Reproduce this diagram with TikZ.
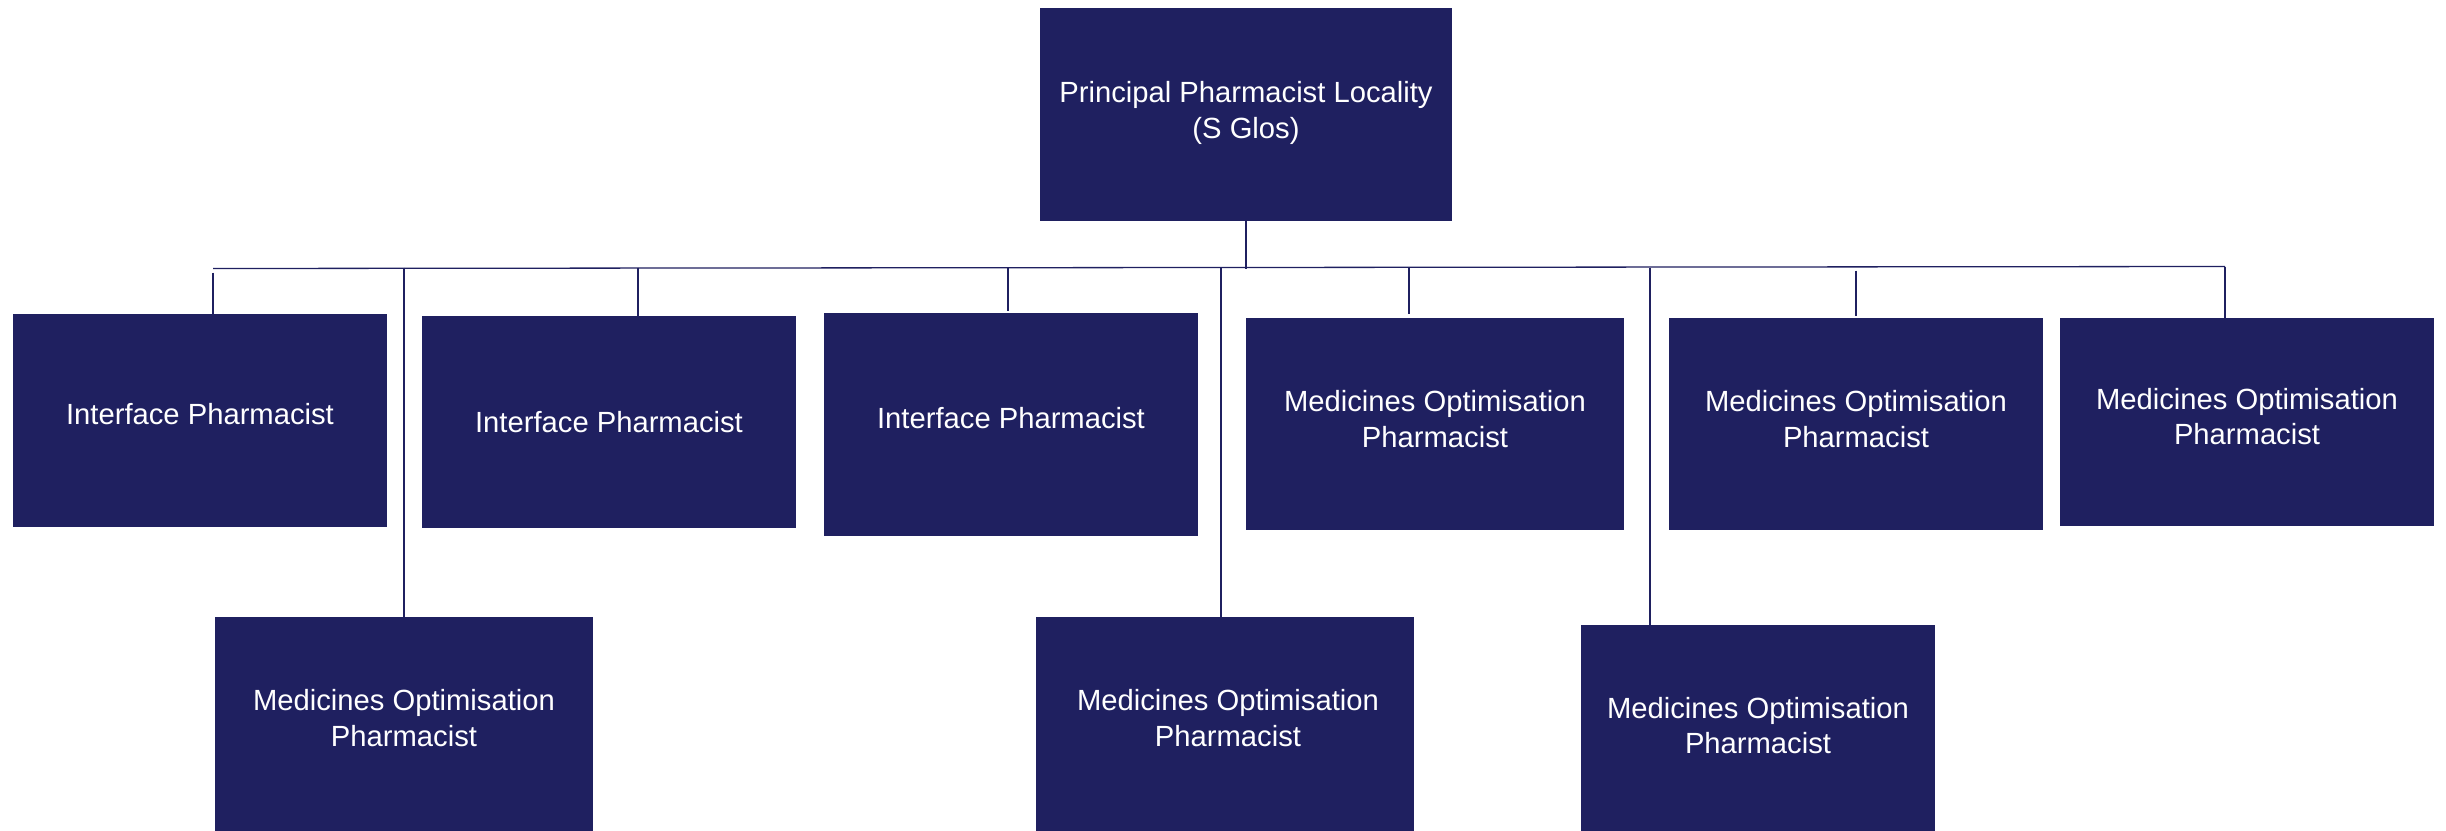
\documentclass[tikz,border=0pt]{standalone}
\usepackage{fontspec}
\setmainfont{Liberation Sans}
\definecolor{navy}{RGB}{31,32,96}
\begin{document}
\begin{tikzpicture}[x=1pt,y=-1pt,
  box/.style={fill=navy,draw=none,inner sep=0pt,outer sep=0pt},
  txt/.style={text=white,align=center,inner sep=0pt,font=\fontsize{29.2pt}{35.5pt}\selectfont},
  conn/.style={draw=navy,line width=1.3pt}]
\clip (0,0) rectangle (2446,830);
\fill[white] (0,0) rectangle (2446,830);
% boxes
\node[box,minimum width=412pt,minimum height=213pt] (top) at (1246,114.5) {};
\node[box,minimum width=374pt,minimum height=213pt] (b1) at (200,420.5) {};
\node[box,minimum width=374pt,minimum height=212pt] (b2) at (609,422) {};
\node[box,minimum width=374pt,minimum height=223pt] (b3) at (1011,424.5) {};
\node[box,minimum width=378pt,minimum height=212pt] (b4) at (1435,424) {};
\node[box,minimum width=374pt,minimum height=212pt] (b5) at (1856,424) {};
\node[box,minimum width=374pt,minimum height=208pt] (b6) at (2247,422) {};
\node[box,minimum width=378pt,minimum height=220pt] (b7) at (404,727) {};
\node[box,minimum width=378pt,minimum height=220pt] (b8) at (1225,727) {};
\node[box,minimum width=354pt,minimum height=212pt] (b9) at (1758,731) {};
% texts
\node[txt] (ttop) at (1246,113) {Principal Pharmacist Locality\\(S Glos)};
\node[txt] (t1) at (200,414) {Interface Pharmacist};
\node[txt] (t2) at (609,422) {Interface Pharmacist};
\node[txt] (t3) at (1011,418) {Interface Pharmacist};
\node[txt] (t4) at (1435,419) {Medicines Optimisation\\Pharmacist};
\node[txt] (t5) at (1856,419) {Medicines Optimisation\\Pharmacist};
\node[txt] (t6) at (2247,416.5) {Medicines Optimisation\\Pharmacist};
\node[txt] (t7) at (404,718) {Medicines Optimisation\\Pharmacist};
\node[txt] (t8) at (1228,718) {Medicines Optimisation\\Pharmacist};
\node[txt] (t9) at (1758,725.5) {Medicines Optimisation\\Pharmacist};
% bus
\coordinate (busL) at (213,268.5);
\coordinate (busR) at (2225,266.5);
\coordinate (c1) at (213,267.5);
\coordinate (c2) at (638,267.5);
\coordinate (c3) at (1008,267.5);
\coordinate (c4) at (1409,267.5);
\coordinate (c5) at (1856,267.5);
\coordinate (c6) at (2225,266.5);
\coordinate (c7) at (404,267.5);
\coordinate (c8) at (1221,267.5);
\coordinate (c9) at (1650,267.5);
\draw[conn] (top.south) -- (top.south |- busL);
\draw[conn] (busL) -- (busR);
\draw[conn,shorten <=5pt] (c1) -- (c1 |- b1.north);
\draw[conn] (c2) -- (c2 |- b2.north);
\draw[conn,shorten >=2pt] (c3) -- (c3 |- b3.north);
\draw[conn,shorten >=4pt] (c4) -- (c4 |- b4.north);
\draw[conn,shorten <=3pt,shorten >=2pt] (c5) -- (c5 |- b5.north);
\draw[conn] (c6) -- (c6 |- b6.north);
\draw[conn] (c7) -- (c7 |- b7.north);
\draw[conn] (c8) -- (c8 |- b8.north);
\draw[conn] (c9) -- (c9 |- b9.north);
\end{tikzpicture}
\end{document}
